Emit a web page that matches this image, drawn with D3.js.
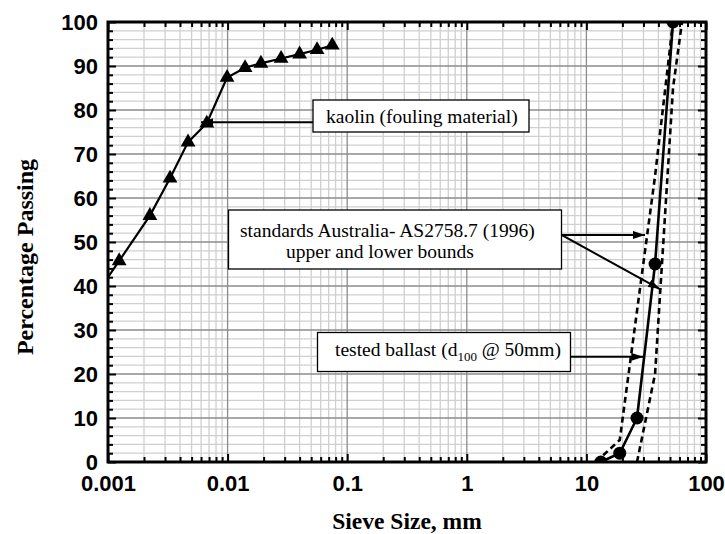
<!DOCTYPE html>
<html>
<head>
<meta charset="utf-8">
<script src="https://cdn.jsdelivr.net/npm/d3@7"></script>
<style>
  body { margin: 0; background: #fff; }
  svg { display: block; }
</style>
</head>
<body>
<script>
// kaolin (first entry is where the curve meets the left axis, no marker)
var kaolinSize = [0.001, 0.00124, 0.00224, 0.0033, 0.00467, 0.0067, 0.0099, 0.014, 0.019, 0.028, 0.040, 0.056, 0.075];
var kaolinPass = [42, 45.7, 56, 64.5, 72.7, 77, 87.4, 89.6, 90.6, 91.7, 92.7, 93.7, 94.7];

// tested ballast
var ballastSize = [13.2, 19, 26.5, 37.5, 53];
var ballastPass = [0, 2, 10, 45, 100];

// AS2758.7 (1996) bounds
var upperSize = [12, 19, 37.5, 53];
var upperPass = [0, 5, 65, 100];
var lowerSize = [26.5, 37.5, 53, 63];
var lowerPass = [0, 20, 85, 100];

var xMajor = [0.001, 0.01, 0.1, 1, 10, 100];
var xMajorLabels = ["0.001", "0.01", "0.1", "1", "10", "100"];
var yMajor = [0, 10, 20, 30, 40, 50, 60, 70, 80, 90, 100];

var width = 725,
  height = 534,
  pLeft = 108, pRight = 706, pTop = 22, pBottom = 462;

var svg = d3.select("body").append("svg")
  .attr("width", width)
  .attr("height", height);

var x = d3.scaleLog().domain([0.001, 100]).range([pLeft, pRight]);
var y = d3.scaleLinear().domain([0, 100]).range([pBottom, pTop]);

var xMinor = [];
xMajor.slice(0, -1).forEach(function (d) {
  for (var k = 2; k <= 9; k++) xMinor.push(d * k);
});
var yMinor = d3.range(0, 101, 2).filter(function (d) { return d % 10 != 0; });

svg.append("clipPath").attr("id", "plotclip")
  .append("rect")
  .attr("x", pLeft).attr("y", pTop)
  .attr("width", pRight - pLeft).attr("height", pBottom - pTop);

// grid
var grid = svg.append("g");
grid.selectAll(".vminor").data(xMinor).enter().append("line")
  .attr("x1", function (d) { return x(d); }).attr("x2", function (d) { return x(d); })
  .attr("y1", pTop).attr("y2", pBottom)
  .attr("stroke", "#cfcfcf").attr("stroke-width", 1.3);
grid.selectAll(".hminor").data(yMinor).enter().append("line")
  .attr("y1", function (d) { return y(d); }).attr("y2", function (d) { return y(d); })
  .attr("x1", pLeft).attr("x2", pRight)
  .attr("stroke", "#cfcfcf").attr("stroke-width", 1.3);
grid.selectAll(".vmajor").data(xMajor).enter().append("line")
  .attr("x1", function (d) { return x(d); }).attr("x2", function (d) { return x(d); })
  .attr("y1", pTop).attr("y2", pBottom)
  .attr("stroke", "#8c8c8c").attr("stroke-width", 1.3);
grid.selectAll(".hmajor").data(yMajor).enter().append("line")
  .attr("y1", function (d) { return y(d); }).attr("y2", function (d) { return y(d); })
  .attr("x1", pLeft).attr("x2", pRight)
  .attr("stroke", "#8c8c8c").attr("stroke-width", 1.3);

// curves
var line = d3.line()
  .x(function (d) { return x(d[0]); })
  .y(function (d) { return y(d[1]); });

var kaolin = d3.zip(kaolinSize, kaolinPass);
var ballast = d3.zip(ballastSize, ballastPass);
var upper = d3.zip(upperSize, upperPass);
var lower = d3.zip(lowerSize, lowerPass);

var plot = svg.append("g").attr("clip-path", "url(#plotclip)");

[upper, lower].forEach(function (data) {
  plot.append("path").datum(data)
    .attr("d", line)
    .attr("fill", "none").attr("stroke", "#000")
    .attr("stroke-width", 2.6).attr("stroke-dasharray", "6,4");
});

plot.append("path").datum(kaolin)
  .attr("d", line)
  .attr("fill", "none").attr("stroke", "#000").attr("stroke-width", 2.2);
plot.append("path").datum(ballast)
  .attr("d", line)
  .attr("fill", "none").attr("stroke", "#000").attr("stroke-width", 2.6);

var tri = d3.symbol().type(d3.symbolTriangle).size(95);
plot.selectAll(".tri").data(kaolin.slice(1)).enter().append("path")
  .attr("d", tri)
  .attr("transform", function (d) { return "translate(" + x(d[0]) + "," + y(d[1]) + ")"; })
  .attr("fill", "#000");

plot.selectAll(".dot").data(ballast).enter().append("circle")
  .attr("cx", function (d) { return x(d[0]); })
  .attr("cy", function (d) { return y(d[1]); })
  .attr("r", 6.5)
  .attr("fill", "#000");

// axes, ticks inward
function styleAxis(g) {
  g.select(".domain").remove();
  g.selectAll(".tick line").attr("stroke", "#000").attr("stroke-width", 2);
  g.selectAll("text")
    .attr("font-family", "Liberation Sans, Arial, sans-serif")
    .attr("font-weight", "bold")
    .attr("font-size", 22)
    .attr("fill", "#000");
}

svg.append("g").attr("transform", "translate(0," + pBottom + ")")
  .call(d3.axisBottom(x).tickValues(xMinor).tickSize(-5).tickFormat(""))
  .call(styleAxis);
svg.append("g").attr("transform", "translate(0," + pBottom + ")")
  .call(d3.axisBottom(x).tickValues(xMajor).tickSize(-8).tickPadding(13)
    .tickFormat(function (d, i) { return xMajorLabels[i]; }))
  .call(styleAxis);
svg.append("g").attr("transform", "translate(0," + pTop + ")")
  .call(d3.axisTop(x).tickValues(xMinor).tickSize(-5).tickFormat(""))
  .call(styleAxis);
svg.append("g").attr("transform", "translate(0," + pTop + ")")
  .call(d3.axisTop(x).tickValues(xMajor).tickSize(-8).tickFormat(""))
  .call(styleAxis);
svg.append("g").attr("transform", "translate(" + pLeft + ",0)")
  .call(d3.axisLeft(y).tickValues(yMinor).tickSize(-5).tickFormat(""))
  .call(styleAxis);
svg.append("g").attr("transform", "translate(" + pLeft + ",0)")
  .call(d3.axisLeft(y).tickValues(yMajor).tickSize(-8).tickPadding(10).tickFormat(d3.format("d")))
  .call(styleAxis)
  .selectAll("text").attr("dy", "0.36em");
svg.append("g").attr("transform", "translate(" + pRight + ",0)")
  .call(d3.axisRight(y).tickValues(yMinor).tickSize(-5).tickFormat(""))
  .call(styleAxis);
svg.append("g").attr("transform", "translate(" + pRight + ",0)")
  .call(d3.axisRight(y).tickValues(yMajor).tickSize(-8).tickFormat(""))
  .call(styleAxis);

svg.append("rect")
  .attr("x", pLeft).attr("y", pTop)
  .attr("width", pRight - pLeft).attr("height", pBottom - pTop)
  .attr("fill", "none").attr("stroke", "#000").attr("stroke-width", 3);

// annotations
svg.append("defs").append("marker")
  .attr("id", "head")
  .attr("viewBox", "0 0 12 8")
  .attr("refX", 12).attr("refY", 4)
  .attr("markerWidth", 12).attr("markerHeight", 8)
  .attr("markerUnits", "userSpaceOnUse")
  .attr("orient", "auto")
  .append("path").attr("d", "M0,0L12,4L0,8Z").attr("fill", "#000");

function box(bx, by, bw, bh) {
  svg.append("rect")
    .attr("x", bx).attr("y", by).attr("width", bw).attr("height", bh)
    .attr("fill", "#fff").attr("stroke", "#000").attr("stroke-width", 1.3);
}
function arrow(x1, y1, x2, y2) {
  svg.append("line")
    .attr("x1", x1).attr("y1", y1).attr("x2", x2).attr("y2", y2)
    .attr("stroke", "#000").attr("stroke-width", 2)
    .attr("marker-end", "url(#head)");
}
function label(tx, ty, txt) {
  return svg.append("text")
    .attr("x", tx).attr("y", ty)
    .attr("font-family", "Liberation Serif, Times New Roman, serif")
    .attr("font-size", 19.5)
    .attr("fill", "#000")
    .text(txt);
}

arrow(313, y(77.2), x(0.0060), y(77.2));
box(313, 100, 216, 32);
label(326, 123, "kaolin (fouling material)");

arrow(561.5, y(51.6), x(30.9), y(51.6));
arrow(561.5, y(51.6), x(41.2), y(39.3));
box(228.5, 210, 333, 59);
label(240, 236.5, "standards Australia- AS2758.7 (1996)");
label(286, 258, "upper and lower bounds");

arrow(570.5, y(23.9), x(29.9), y(23.9));
box(317.5, 332.5, 253, 39);
var t = label(335, 356, "tested ballast (d");
t.append("tspan").attr("font-size", 13).attr("dy", 5).text("100");
t.append("tspan").attr("dy", -5).text(" @ 50mm)");

// axis titles
svg.append("text")
  .attr("x", 407).attr("y", 529)
  .attr("text-anchor", "middle")
  .attr("font-family", "Liberation Serif, Times New Roman, serif")
  .attr("font-weight", "bold").attr("font-size", 23.5)
  .text("Sieve Size, mm");
svg.append("text")
  .attr("transform", "translate(33,257) rotate(-90)")
  .attr("text-anchor", "middle")
  .attr("font-family", "Liberation Serif, Times New Roman, serif")
  .attr("font-weight", "bold").attr("font-size", 24)
  .text("Percentage Passing");
</script>
</body>
</html>
